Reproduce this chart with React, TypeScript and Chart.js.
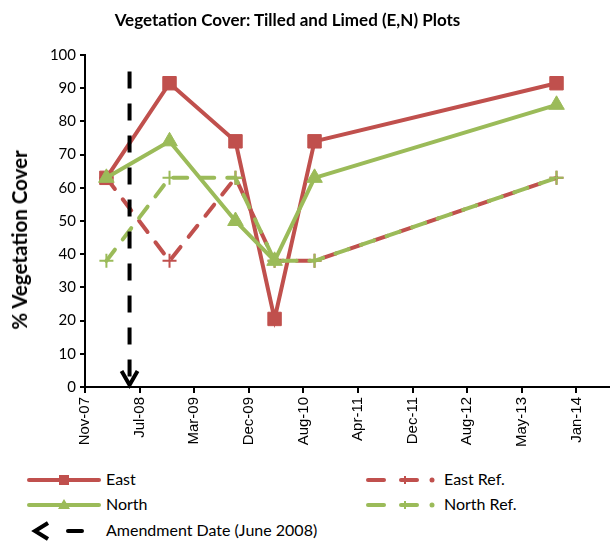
import React, { useEffect, useRef } from "react";
import { Chart, registerables } from "chart.js";

Chart.register(...registerables);

const AXIS_START = "2007-11-14";
const AXIS_DAYS_MAX = 2500;
const TICK_STEP_DAYS = 250;
const MONTHS = ["Jan", "Feb", "Mar", "Apr", "May", "Jun", "Jul", "Aug", "Sep", "Oct", "Nov", "Dec"];

const SAMPLE_DATES = ["2008-02-20", "2008-12-05", "2009-10-03", "2010-03-31", "2010-09-30", "2013-10-12"];
const EAST = [63, 91.5, 74, 20.5, 74, 91.5];
const EAST_REF = [63, 38, 63, 38, 38, 63];
const NORTH = [63, 74, 50, 38, 63, 85];
const NORTH_REF = [38, 63, 63, 38, 38, 63];

const AMENDMENT_DATE = "2008-06-05";
const AMENDMENT_Y = [95, 0];

const RED = "#C0504D";
const GREEN = "#9BBB59";

const DAY_MS = 86400000;
const toDays = (d: string) => (Date.parse(d) - Date.parse(AXIS_START)) / DAY_MS;
const fmtTick = (v: number) => {
  const d = new Date(Date.parse(AXIS_START) + v * DAY_MS);
  return MONTHS[d.getUTCMonth()] + "-" + String(d.getUTCFullYear() % 100).padStart(2, "0");
};
const pts = (vals: number[]) => vals.map((y, i) => ({ x: toDays(SAMPLE_DATES[i]), y }));

const arrowHead = {
  id: "arrowHead",
  afterDatasetsDraw(chart: any) {
    const idx = chart.data.datasets.findIndex((d: any) => d.label === "Amendment Date (June 2008)");
    if (idx < 0) return;
    const meta = chart.getDatasetMeta(idx);
    const el = meta.data[1];
    if (!el) return;
    const ctx = chart.ctx;
    ctx.save();
    ctx.strokeStyle = "#000";
    ctx.lineWidth = 4;
    ctx.lineJoin = "miter";
    ctx.lineCap = "butt";
    ctx.beginPath();
    ctx.moveTo(el.x - 8, el.y - 16);
    ctx.lineTo(el.x, el.y - 2);
    ctx.lineTo(el.x + 8, el.y - 16);
    ctx.stroke();
    ctx.restore();
  },
};

const LEG_FONT = "16px Lato";

function LegendRow(props: { y: number; icon: React.ReactNode; text: string; textX: number }) {
  return (
    <>
      <svg style={{ position: "absolute", left: 0, top: props.y - 12, overflow: "visible" }} width={610} height={24}>
        <g transform="translate(0,12)">{props.icon}</g>
      </svg>
      <div style={{ position: "absolute", left: props.textX, top: props.y - 11, font: LEG_FONT, lineHeight: "20px", color: "#000", whiteSpace: "nowrap" }}>
        {props.text}
      </div>
    </>
  );
}

export default function App() {
  const ref = useRef<HTMLCanvasElement>(null);
  useEffect(() => {
    if (!ref.current) return;
    const chart = new Chart(ref.current, {
      type: "line",
      data: {
        datasets: [
          {
            label: "Amendment Date (June 2008)",
            data: AMENDMENT_Y.map((y) => ({ x: toDays(AMENDMENT_DATE), y })),
            borderColor: "#000",
            borderWidth: 4,
            borderDash: [17, 15],
            pointRadius: 0,
            order: 0,
          },
          {
            label: "North Ref.",
            data: pts(NORTH_REF),
            borderColor: GREEN,
            borderWidth: 4,
            borderDash: [14, 13],
            borderCapStyle: "round",
            pointStyle: "cross",
            pointRadius: 7,
            pointBorderWidth: 2,
            pointBorderColor: GREEN,
            order: 1,
          },
          {
            label: "North",
            data: pts(NORTH),
            borderColor: GREEN,
            borderWidth: 4,
            pointStyle: "triangle",
            pointRadius: 9,
            pointBackgroundColor: GREEN,
            pointBorderColor: GREEN,
            pointBorderWidth: 1,
            order: 2,
          },
          {
            label: "East Ref.",
            data: pts(EAST_REF),
            borderColor: RED,
            borderWidth: 4,
            borderDash: [14, 13],
            borderCapStyle: "round",
            pointStyle: "cross",
            pointRadius: 7,
            pointBorderWidth: 2,
            pointBorderColor: RED,
            order: 3,
          },
          {
            label: "East",
            data: pts(EAST),
            borderColor: RED,
            borderWidth: 4,
            pointStyle: "rect",
            pointRadius: 9.5,
            pointBackgroundColor: RED,
            pointBorderColor: RED,
            pointBorderWidth: 1,
            order: 4,
          },
        ],
      },
      options: {
        animation: false,
        responsive: false,
        devicePixelRatio: 1,
        layout: { padding: { top: 55, right: 14, left: 0, bottom: 0 } },
        plugins: { legend: { display: false }, tooltip: { enabled: false }, title: { display: false } },
        scales: {
          x: {
            type: "linear",
            min: 0,
            max: AXIS_DAYS_MAX,
            afterFit: (s: any) => {
              s.height = 73;
            },
            border: { display: true, color: "#000", width: 2 },
            grid: { drawOnChartArea: false, drawTicks: true, tickLength: 6, color: "#000", lineWidth: 2 },
            ticks: {
              stepSize: TICK_STEP_DAYS,
              autoSkip: false,
              maxRotation: 90,
              minRotation: 90,
              padding: 4,
              color: "#000",
              font: { family: "Liberation Sans", size: 15 },
              callback: (v: any) => fmtTick(Number(v)),
            },
          },
          y: {
            min: 0,
            max: 100,
            afterFit: (s: any) => {
              s.width = 85;
            },
            border: { display: true, color: "#000", width: 2 },
            grid: { drawOnChartArea: false, drawTicks: true, tickLength: 5, color: "#000", lineWidth: 2 },
            ticks: {
              stepSize: 10,
              padding: 4,
              color: "#000",
              font: { family: "Lato", size: 15 },
            },
          },
        },
      },
      plugins: [arrowHead],
    });
    return () => chart.destroy();
  }, []);

  return (
    <div style={{ position: "fixed", left: 0, top: 0, width: 610, height: 544, overflow: "hidden", background: "#fff" }}>
      <canvas ref={ref} width={653} height={460} style={{ position: "absolute", left: 0, top: 0, width: 653, height: 460 }} />
      <div style={{ position: "absolute", left: 0, width: 575, top: 9, textAlign: "center", font: "bold 17px Lato", color: "#000", whiteSpace: "nowrap" }}>
        Vegetation Cover: Tilled and Limed (E,N) Plots
      </div>
      <div
        style={{
          position: "absolute",
          left: 19,
          top: 240,
          transform: "translate(-50%, -50%) rotate(-90deg)",
          font: "bold 20.5px Lato",
          color: "#000",
          whiteSpace: "nowrap",
        }}
      >
        % Vegetation Cover
      </div>
      <LegendRow
        y={480}
        textX={106}
        text="East"
        icon={
          <>
            <line x1={29} y1={0} x2={99} y2={0} stroke={RED} strokeWidth={4} strokeLinecap="round" />
            <rect x={59} y={-5} width={10} height={10} fill={RED} />
          </>
        }
      />
      <LegendRow
        y={505}
        textX={106}
        text="North"
        icon={
          <>
            <line x1={29} y1={0} x2={99} y2={0} stroke={GREEN} strokeWidth={4} strokeLinecap="round" />
            <polygon points="64,-6 70,4 58,4" fill={GREEN} />
          </>
        }
      />
      <LegendRow
        y={531}
        textX={106}
        text="Amendment Date (June 2008)"
        icon={
          <>
            <polyline points="48,-8 35,0 48,8" fill="none" stroke="#000" strokeWidth={4} />
            <line x1={68} y1={0} x2={82} y2={0} stroke="#000" strokeWidth={4} strokeLinecap="round" />
          </>
        }
      />
      <LegendRow
        y={480}
        textX={444}
        text="East Ref."
        icon={
          <>
            <line x1={368} y1={0} x2={384} y2={0} stroke={RED} strokeWidth={4} strokeLinecap="round" />
            <line x1={401} y1={0} x2={417} y2={0} stroke={RED} strokeWidth={4} strokeLinecap="round" />
            <line x1={405} y1={-4} x2={405} y2={4} stroke={RED} strokeWidth={2} />
            <circle cx={432} cy={0} r={2.5} fill={RED} />
          </>
        }
      />
      <LegendRow
        y={505}
        textX={444}
        text="North Ref."
        icon={
          <>
            <line x1={368} y1={0} x2={384} y2={0} stroke={GREEN} strokeWidth={4} strokeLinecap="round" />
            <line x1={401} y1={0} x2={417} y2={0} stroke={GREEN} strokeWidth={4} strokeLinecap="round" />
            <line x1={405} y1={-4} x2={405} y2={4} stroke={GREEN} strokeWidth={2} />
            <circle cx={432} cy={0} r={2.5} fill={GREEN} />
          </>
        }
      />
    </div>
  );
}
